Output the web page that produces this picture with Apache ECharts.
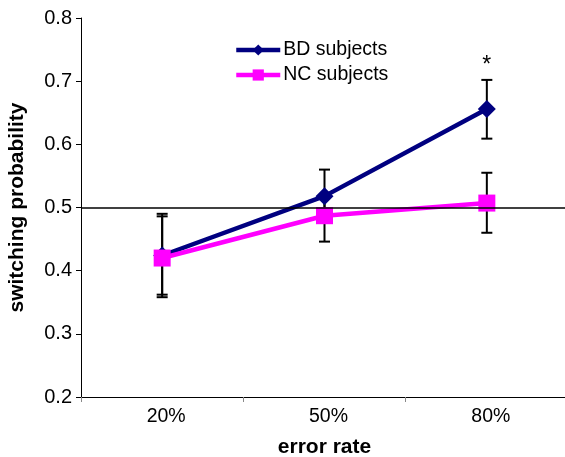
<!DOCTYPE html>
<html>
<head>
<meta charset="utf-8">
<script src="https://cdn.jsdelivr.net/npm/echarts@6/dist/echarts.min.js"></script>
<style>
  html, body { margin: 0; padding: 0; background: #fff; }
  #chart { width: 565px; height: 457px; }
</style>
</head>
<body>
<div id="chart"></div>
<script>
// data
const categories = ['20%', '50%', '80%'];
const bdMean = [0.424, 0.518, 0.656];
const bdLow = [0.358, 0.480, 0.609];
const bdHigh = [0.490, 0.560, 0.702];
const ncMean = [0.420, 0.487, 0.507];
const ncLow = [0.362, 0.446, 0.460];
const ncHigh = [0.486, 0.518, 0.555];
const significance = ['', '', '*'];
const yTicks = [0.2, 0.8, 0.1];

const chart = echarts.init(document.getElementById('chart'));

function errorData(low, high, marks) {
  return categories.map((c, i) => [i, low[i], high[i], marks ? marks[i] : '']);
}

function renderErrorBar(params, api) {
  const x = api.value(0);
  const lo = api.coord([x, api.value(1)]);
  const hi = api.coord([x, api.value(2)]);
  const cap = 5.5;
  const style = { stroke: '#000', lineWidth: 2 };
  const children = [
    { type: 'line', shape: { x1: hi[0], y1: hi[1], x2: lo[0], y2: lo[1] }, style: style },
    { type: 'line', shape: { x1: hi[0] - cap, y1: hi[1], x2: hi[0] + cap, y2: hi[1] }, style: style },
    { type: 'line', shape: { x1: lo[0] - cap, y1: lo[1], x2: lo[0] + cap, y2: lo[1] }, style: style }
  ];
  const mark = api.value(3);
  if (mark) {
    children.push({
      type: 'text',
      style: {
        text: mark, x: hi[0], y: hi[1] - 3,
        fill: '#000', font: '23px "Liberation Sans", Arial, sans-serif',
        align: 'center', verticalAlign: 'bottom'
      }
    });
  }
  return { type: 'group', children: children };
}

chart.setOption({
  animation: false,
  textStyle: { fontFamily: '"Liberation Sans", Arial, sans-serif' },
  grid: { left: 81, right: -3, top: 18, bottom: 60, outerBoundsMode: 'none', containLabel: false },
  legend: {
    orient: 'vertical',
    left: 229,
    top: 35,
    itemGap: 5,
    itemWidth: 44,
    itemHeight: 14,
    lineStyle: { width: 4.5 },
    textStyle: { fontSize: 19.5, color: '#000', padding: [0, 0, 0, -2] },
    data: ['BD subjects', 'NC subjects']
  },
  xAxis: {
    type: 'category',
    data: categories,
    name: 'error rate',
    nameLocation: 'middle',
    nameGap: 40,
    nameTextStyle: { fontSize: 21, fontWeight: 'bold', color: '#000' },
    axisLine: { lineStyle: { color: '#000', width: 1 } },
    axisTick: { show: true, length: 5, lineStyle: { color: '#888' } },
    axisLabel: { fontSize: 19.5, color: '#000', margin: 10, padding: [0, 0, 0, 8] },
    splitLine: { show: false }
  },
  yAxis: {
    type: 'value',
    min: yTicks[0],
    max: yTicks[1],
    interval: yTicks[2],
    name: 'switching probability',
    nameLocation: 'middle',
    nameGap: 53,
    nameTextStyle: { fontSize: 21, fontWeight: 'bold', color: '#000' },
    axisLine: { show: true, lineStyle: { color: '#000', width: 1 } },
    axisTick: { show: true, length: 5, lineStyle: { color: '#000' } },
    axisLabel: { fontSize: 20, color: '#000', margin: 9, formatter: v => v.toFixed(1) },
    splitLine: { show: false }
  },
  series: [
    {
      type: 'custom',
      name: 'bd-err',
      renderItem: renderErrorBar,
      data: errorData(bdLow, bdHigh, significance),
      z: 1,
      silent: true
    },
    {
      type: 'custom',
      name: 'nc-err',
      renderItem: renderErrorBar,
      data: errorData(ncLow, ncHigh),
      z: 1,
      silent: true
    },
    {
      name: 'BD subjects',
      type: 'line',
      data: bdMean,
      z: 3,
      symbol: 'diamond',
      symbolSize: 18,
      lineStyle: { color: '#000080', width: 4.5 },
      itemStyle: { color: '#000080' },
      markLine: {
        silent: true,
        symbol: 'none',
        label: { show: false },
        lineStyle: { color: '#000', width: 1.5, type: 'solid' },
        data: [{ yAxis: 0.5 }]
      }
    },
    {
      name: 'NC subjects',
      type: 'line',
      data: ncMean,
      z: 4,
      symbol: 'rect',
      symbolSize: 17,
      lineStyle: { color: '#ff00ff', width: 4.5 },
      itemStyle: { color: '#ff00ff' }
    }
  ]
});
</script>
</body>
</html>
